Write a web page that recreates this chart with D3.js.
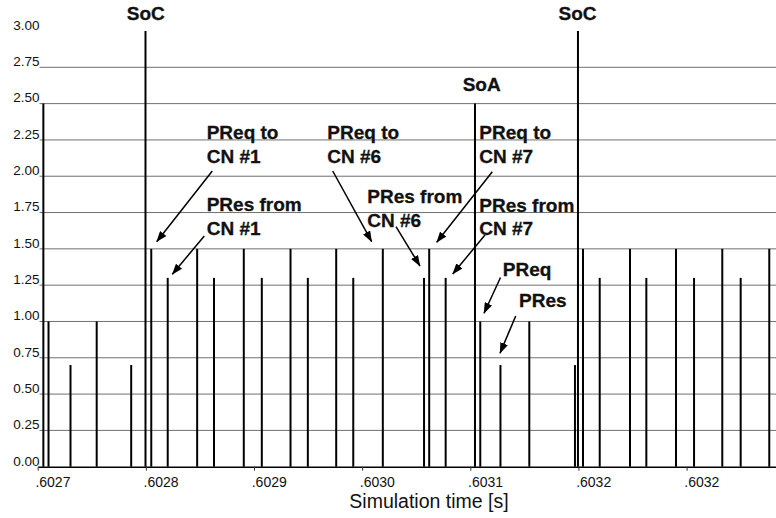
<!DOCTYPE html>
<html>
<head>
<meta charset="utf-8">
<script src="https://cdn.jsdelivr.net/npm/d3@7"></script>
<style>
  html, body { margin: 0; padding: 0; background: #fff; }
  svg { display: block; font-family: "Liberation Sans", Arial, Helvetica, sans-serif; }
</style>
</head>
<body>
<svg id="chart" width="776" height="518"></svg>
<script>
// Bus events: time stamp [s] and symbolic bar height of each frame
const eventTimes = [
  0.6027097, 0.6027140, 0.6027323, 0.6027541, 0.6027828,
  0.6027947, 0.6027995, 0.6028132, 0.6028377, 0.6028517,
  0.6028765, 0.6028915, 0.6029154, 0.6029298, 0.6029534,
  0.6029676, 0.6029922, 0.6030265, 0.6030308, 0.6030445,
  0.6030689, 0.6030733, 0.6030901, 0.6031141, 0.6031521,
  0.6031546, 0.6031588, 0.6031727, 0.6031979, 0.6032115,
  0.6032362, 0.6032512, 0.6032747, 0.6032900, 0.6033138
];
const eventHeights = [
  2.5, 1.0, 0.7, 1.0, 0.7,
  3.0, 1.5, 1.3, 1.5, 1.3,
  1.5, 1.3, 1.5, 1.3, 1.5,
  1.3, 1.5, 1.3, 1.5, 1.3,
  2.5, 1.0, 0.7, 1.0, 0.7,
  3.0, 1.5, 1.3, 1.5, 1.3,
  1.5, 1.3, 1.5, 1.3, 1.5
];

// Axis ticks
const xTickValues = [0.602705, 0.602795, 0.602885, 0.602975, 0.603065, 0.603155, 0.603245];
const xTickLabels = [".6027", ".6028", ".6029", ".6030", ".6031", ".6032", ".6032"];
const yTickValues = [0, 0.25, 0.5, 0.75, 1.0, 1.25, 1.5, 1.75, 2.0, 2.25, 2.5, 2.75, 3.0];
const yTickLabels = ["0.00", "0.25", "0.50", "0.75", "1.00", "1.25", "1.50", "1.75", "2.00", "2.25", "2.50", "2.75", "3.00"];

// Cycle markers written above the tall bars
const markerTexts = ["SoC", "SoA", "SoC"];
// Frame annotations (one entry per callout, lines stacked)
const noteTexts = [
  ["PReq to", "CN #1"],
  ["PRes from", "CN #1"],
  ["PReq to", "CN #6"],
  ["PRes from", "CN #6"],
  ["PReq to", "CN #7"],
  ["PRes from", "CN #7"],
  ["PReq"],
  ["PRes"]
];

// ---- layout ----
const plot = { left: 37.7, right: 776, top: 31, bottom: 466.7 };
const gridStart = 39.5;

const markerLayout = [
  { x: 145.8, y: 20 },
  { x: 481.7, y: 90.7 },
  { x: 577.5, y: 19.5 }
];
// text start (x, first baseline) and arrow (from -> tip)
const noteLayout = [
  { x: 206.7, y: 138.7, from: [212.3, 171.0], to: [156.7, 241.7] },
  { x: 206.7, y: 210.7, from: [204.3, 236.0], to: [172.3, 274.3] },
  { x: 327.3, y: 138.8, from: [332.7, 171.0], to: [371.7, 241.7] },
  { x: 367.3, y: 203.0, from: [396.0, 226.7], to: [420.0, 266.0] },
  { x: 479.3, y: 138.8, from: [492.3, 171.7], to: [436.7, 242.3] },
  { x: 479.3, y: 211.6, from: [485.0, 235.0], to: [452.7, 274.0] },
  { x: 502.8, y: 276.0, from: [500.5, 277.5], to: [484.0, 313.3] },
  { x: 519.0, y: 306.7, from: [515.7, 316.0], to: [500.0, 353.3] }
];
const lineGap = 23.8;

const svg = d3.select("#chart");

const x = d3.scaleLinear()
  .domain([0.602705, 0.6033194])
  .range([plot.left, plot.right]);
const y = d3.scaleLinear()
  .domain([0, 3])
  .range([plot.bottom, plot.top]);

// arrowhead
svg.append("defs").append("marker")
  .attr("id", "arrowhead")
  .attr("markerUnits", "userSpaceOnUse")
  .attr("viewBox", "0 0 11 8")
  .attr("refX", 10.5).attr("refY", 4)
  .attr("markerWidth", 11).attr("markerHeight", 8)
  .attr("orient", "auto")
  .append("path")
  .attr("d", "M0,0 L11,4 L0,8 Z")
  .attr("fill", "#000");

// horizontal grid lines
svg.append("g").attr("class", "grid")
  .selectAll("line")
  .data(yTickValues.filter(v => v > 0 && v < 3))
  .join("line")
  .attr("x1", gridStart).attr("x2", plot.right)
  .attr("y1", d => y(d)).attr("y2", d => y(d))
  .attr("stroke", "#707070")
  .attr("stroke-width", 1);

// y tick labels
svg.append("g").attr("class", "y-labels")
  .selectAll("text")
  .data(yTickValues)
  .join("text")
  .attr("x", 39.5)
  .attr("y", d => y(d) - 1.2)
  .attr("text-anchor", "end")
  .attr("font-size", "13.5px")
  .attr("fill", "#111")
  .text((d, i) => yTickLabels[i]);

// x axis
const xAxis = d3.axisBottom(x)
  .tickValues(xTickValues)
  .tickFormat((d, i) => xTickLabels[i])
  .tickSize(4)
  .tickSizeOuter(0);

const gx = svg.append("g")
  .attr("transform", `translate(0,${plot.bottom})`)
  .call(xAxis);
gx.select(".domain").attr("stroke", "#000").attr("stroke-width", 1.6);
gx.selectAll(".tick line").attr("stroke", "#333");
gx.selectAll(".tick text")
  .attr("font-family", "\"Liberation Sans\", Arial, sans-serif")
  .attr("font-size", "14px")
  .attr("fill", "#111")
  .attr("text-anchor", "start")
  .attr("x", -2.8)
  .attr("y", 20.2)
  .attr("dy", null);

// event bars
svg.append("g").attr("class", "bars")
  .selectAll("line")
  .data(eventTimes.map((t, i) => ({ t, h: eventHeights[i] })))
  .join("line")
  .attr("x1", d => x(d.t)).attr("x2", d => x(d.t))
  .attr("y1", y(0)).attr("y2", d => y(d.h))
  .attr("stroke", "#000")
  .attr("stroke-width", 2);

// axis title
svg.append("text")
  .attr("x", 429)
  .attr("y", 507.8)
  .attr("text-anchor", "middle")
  .attr("font-size", "19.5px")
  .attr("fill", "#111")
  .text("Simulation time [s]");

// SoC / SoA markers
svg.append("g").attr("class", "markers")
  .selectAll("text")
  .data(markerTexts)
  .join("text")
  .attr("x", (d, i) => markerLayout[i].x)
  .attr("y", (d, i) => markerLayout[i].y)
  .attr("text-anchor", "middle")
  .attr("font-size", "19px")
  .attr("font-weight", "bold")
  .attr("fill", "#111")
  .attr("stroke", "#111")
  .attr("stroke-width", 0.3)
  .text(d => d);

// callouts
const notes = svg.append("g").attr("class", "notes")
  .selectAll("g")
  .data(noteTexts)
  .join("g");

notes.append("line")
  .attr("x1", (d, i) => noteLayout[i].from[0])
  .attr("y1", (d, i) => noteLayout[i].from[1])
  .attr("x2", (d, i) => noteLayout[i].to[0])
  .attr("y2", (d, i) => noteLayout[i].to[1])
  .attr("stroke", "#000")
  .attr("stroke-width", 1.5)
  .attr("marker-end", "url(#arrowhead)");

notes.each(function (lines, i) {
  const g = d3.select(this);
  lines.forEach((s, k) => {
    g.append("text")
      .attr("x", noteLayout[i].x)
      .attr("y", noteLayout[i].y + k * lineGap)
      .attr("font-size", "19px")
      .attr("font-weight", "bold")
      .attr("fill", "#111")
      .attr("stroke", "#111")
      .attr("stroke-width", 0.3)
      .text(s);
  });
});
</script>
</body>
</html>
